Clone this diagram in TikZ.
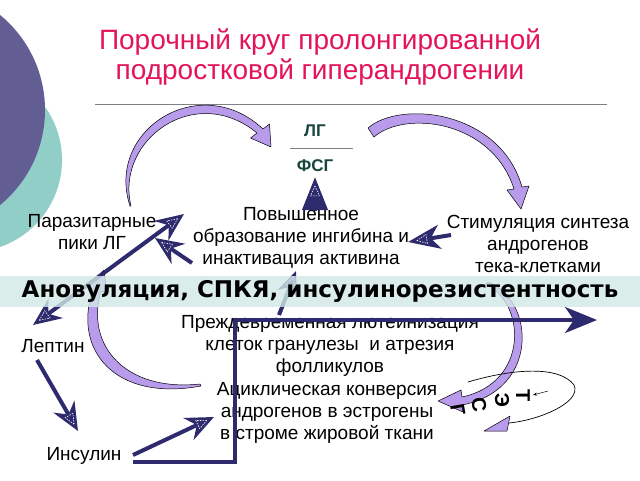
\documentclass[tikz,border=0pt]{standalone}
\usepackage{fontspec}
\setmainfont{Liberation Sans}
\newfontfamily\bandfont{DejaVu Sans}
\usetikzlibrary{arrows.meta,calc,shapes.geometric}
\definecolor{arrnavy}{RGB}{46,42,110}
\definecolor{arcpurple}{RGB}{185,155,235}
\definecolor{titlepink}{RGB}{228,20,90}
\definecolor{circblue}{RGB}{98,94,148}
\definecolor{circteal}{RGB}{145,206,200}
\definecolor{bandteal}{RGB}{210,233,230}
\definecolor{lgcol}{RGB}{25,70,60}
\begin{document}
\begin{tikzpicture}[x=1pt,y=-1pt,
  titlef/.style={font=\fontsize{28}{30}\selectfont, text=titlepink, inner sep=0pt},
  lbl/.style={font=\fontsize{19}{22}\selectfont, align=center, inner sep=0pt},
  hormone/.style={font=\fontsize{17}{20}\selectfont\bfseries, text=lgcol, inner sep=0pt},
  navyline/.style={draw=arrnavy, line width=4pt, line join=miter},
  nhead/.style={-{Stealth[length=28pt,width=24pt,inset=9pt]}},
  arcfill/.style={fill=arcpurple, draw=black, line width=0.5pt, line join=round},
  hmk/.style={isosceles triangle, isosceles triangle stretches=true, draw=white, dashed,
    dash pattern=on 1.5pt off 1.2pt, line width=0.6pt, minimum width=9pt, minimum height=10pt, inner sep=0pt},
  letter/.style={font=\fontsize{20}{20}\selectfont\bfseries, inner sep=0pt}
]
\useasboundingbox (0,0) rectangle (640,480);
\begin{scope}
  \clip (0,0) rectangle (640,480);
  \fill[circteal] (-30,160) circle[radius=92];
  \fill[circblue] (-78,110) circle[radius=123];
\end{scope}

% title
\node[titlef, anchor=base] (t1) at (320,49) {Порочный круг пролонгированной};
\node[titlef, anchor=base] (t2) at (320,79) {подростковой гиперандрогении};
\draw[gray, line width=0.8pt] (95,104) -- (607,104);

% hormones
\node[hormone] (lg) at (315,131) {ЛГ};
\node[hormone] (fsg) at (315,166) {ФСГ};
\draw[gray, line width=0.6pt] (290,148) -- (353,148);

% labels
\node[lbl] (paraz) at (92,232) {Паразитарные\\пики ЛГ};
\node[lbl] (povysh) at (301,238) {Повышенное\\образование ингибина и\\инактивация активина};
\node[lbl] (stim) at (538,244) {Стимуляция синтеза\\андрогенов\\тека-клетками};
\node[lbl] (leptin) at (53,346) {Лептин};
\node[lbl] (insulin) at (84,456) {Инсулин};
\node[lbl] (prezhd) at (330,346) {Преждевременная лютеинизация\\клеток гранулезы\ \ и атрезия\\фолликулов};
\node[lbl] (acikl) at (327,413) {Ациклическая конверсия\\андрогенов в эстрогены\\в строме жировой ткани};

% purple curved arrows
\filldraw[arcfill] (130,206) .. controls (105,130) and (200,70) .. (263,129)
  -- (269.5,124) -- (271,147) -- (250.5,138) -- (257,133)
  .. controls (195,82) and (115,140) .. (131,206) -- cycle;
\filldraw[arcfill] (368,128) .. controls (400,100) and (500,110) .. (522,187)
  -- (529,186) -- (521,209) -- (507,190) -- (514,189)
  .. controls (492,120) and (405,110) .. (374,137) -- cycle;
\filldraw[arcfill] (488,282) .. controls (535,300) and (540,390) .. (462,405)
  -- (463,412) -- (438,401) -- (461,390) -- (462,397)
  .. controls (528,383) and (527,305) .. (486,284) -- cycle;
\filldraw[arcfill] (200,384) .. controls (125,392) and (85,345) .. (101,291)
  -- (107,293.5) -- (104,270) -- (87,286.5) -- (93,289)
  .. controls (72,350) and (115,402) .. (201,386) -- cycle;

% navy arrows
\coordinate (aBot) at (33,325);
\coordinate (aTop) at (184,214);
\coordinate (bTail) at (192,263);
\coordinate (bTip) at (155,238);
\coordinate (cTail) at (315,211);
\coordinate (cTip) at (315,177);
\coordinate (dTail) at (451,235);
\coordinate (dTip) at (408,242);
\coordinate (eTail) at (279,315);
\coordinate (eTip) at (296,271);
\coordinate (fTail) at (37,360);
\coordinate (fTip) at (78,431);
\coordinate (gTail) at (133,455);
\coordinate (gTip) at (214,417);

\draw[navyline, {Stealth[length=28pt,width=24pt,inset=9pt]}-{Stealth[length=28pt,width=24pt,inset=9pt]}] (aBot) -- (aTop);
\draw[navyline, nhead] (bTail) -- (bTip);
\draw[navyline, -{Triangle[length=33pt,width=25pt]}] (cTail) -- (cTip);
\draw[navyline, -{Stealth[length=32pt,width=24pt,inset=9pt]}] (dTail) -- (dTip);
\draw[navyline, -{Stealth[length=24pt,width=20pt,inset=7pt]}] (eTail) -- (eTip);
\draw[navyline, nhead] (fTail) -- (fTip);
\draw[navyline, nhead] (gTail) -- (gTip);

\newcommand\hmark[3]{\path (#1) -- ($(#2)!#3pt!(#1)$) node[pos=1, sloped, allow upside down, hmk]{};}
\hmark{aBot}{aTop}{15}
\hmark{aTop}{aBot}{15}
\hmark{bTail}{bTip}{15}
\hmark{cTail}{cTip}{16}
\hmark{dTail}{dTip}{16}
\hmark{eTail}{eTip}{13}
\hmark{fTail}{fTip}{15}
\hmark{gTail}{gTip}{15}

% band
\fill[bandteal, opacity=0.8] (0,276) rectangle (640,307);
\node[font=\bandfont\bfseries\fontsize{23}{26}\selectfont, inner sep=0pt] (anov) at (320,291) {Ановуляция, СПКЯ, инсулинорезистентность};

% big rectangular arrow
\coordinate (hs) at (133,462);
\coordinate (hc) at (235,320);
\coordinate (he) at (597,320);
\draw[draw=arrnavy, line width=3.5pt, line join=miter, -{Stealth[length=32pt,width=26pt,inset=9pt]}] (hs) -| (hc) -- (he);

% thin loop with TESG
\coordinate (l0) at (468,382);
\coordinate (l1) at (509,423);
\draw[black, line width=0.7pt] (l0) .. controls (515,368) and (560,366) .. (574,385)
  .. controls (582,402) and (540,420) .. (l1);
\filldraw[arcfill] (484,431) -- (510,416) -- (507,431) -- cycle;
\coordinate (sa1) at (548,391);
\coordinate (sa2) at (533,395);
\draw[black, line width=0.5pt, -{Stealth[length=4pt,width=3pt]}] (sa1) -- (sa2);
\node[letter, rotate=-90] (lt1) at (523,396) {Т};
\node[letter, rotate=-87] (lt2) at (502,400) {Э};
\node[letter, rotate=-83] (lt3) at (479,405) {С};
\node[letter, rotate=-80] (lt4) at (458,410) {Г};
\end{tikzpicture}
\end{document}
